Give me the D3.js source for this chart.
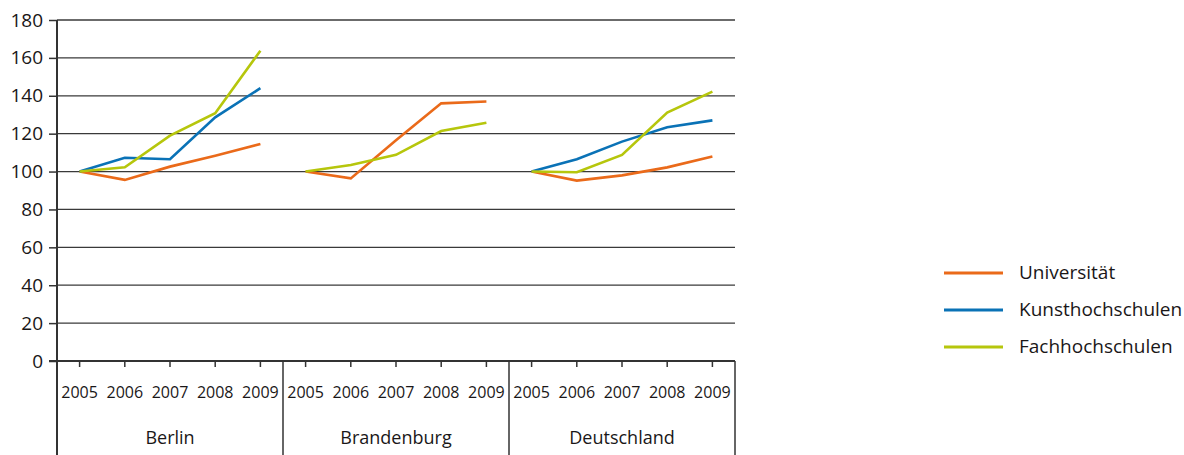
<html>
<head>
    <meta charset="utf-8">
    <script src="https://d3js.org/d3.v7.min.js"></script>
    <style>
        body { margin: 0; background: #fff; }
        text { font-family: "Open Sans", "Noto Sans", sans-serif; fill: #1a1718; }
    </style>
</head>
<body>
<div id="chart"></div>
<script>
    // data
    var regions = ["Berlin", "Brandenburg", "Deutschland"];
    var years = ["2005", "2006", "2007", "2008", "2009"];
    var seriesNames = ["Universität", "Kunsthochschulen", "Fachhochschulen"];
    var seriesColors = ["#ea6a1a", "#0a72b6", "#b6c60c"];
    var yTicks = [0, 20, 40, 60, 80, 100, 120, 140, 160, 180];

    // values per region (null = no data)
    var universitaet = {
        Berlin: [100, 95.6, 102.6, 108.4, 114.6],
        Brandenburg: [100, 96.4, 116.5, 136, 137],
        Deutschland: [100, 95.2, 98, 102.2, 107.9]
    };
    var kunsthochschulen = {
        Berlin: [100, 107.3, 106.5, 128.6, 144],
        Brandenburg: null,
        Deutschland: [100, 106.5, 115.8, 123.4, 127]
    };
    var fachhochschulen = {
        Berlin: [100, 102.3, 119, 130.8, 163.8],
        Brandenburg: [100, 103.5, 108.8, 121.4, 125.8],
        Deutschland: [100, 99.6, 108.8, 131.1, 142.2]
    };
    var seriesValues = [universitaet, kunsthochschulen, fachhochschulen];

    var W = 1184, H = 455;
    var pLeft = 57, pRight = 735, pTop = 20, pBottom = 361;

    var svg = d3.select("#chart").append("svg")
        .attr("width", W)
        .attr("height", H);

    var y = d3.scaleLinear().domain([0, 180]).range([pBottom, pTop]);
    var x0 = d3.scaleBand().domain(regions).range([pLeft, pRight]);
    var x1 = d3.scaleBand().domain(years).range([0, x0.bandwidth()]);

    // gridlines
    svg.append("g")
        .selectAll("line")
        .data(yTicks.filter(function (d) { return d > 0; }))
        .join("line")
        .attr("x1", pLeft).attr("x2", pRight)
        .attr("y1", function (d) { return y(d); })
        .attr("y2", function (d) { return y(d); })
        .style("stroke", "#3a3a3a")
        .style("stroke-width", 1.3);

    // y axis
    var yAxis = svg.append("g")
        .attr("transform", "translate(" + pLeft + ",0)")
        .call(d3.axisLeft(y).tickValues(yTicks).tickSize(8).tickPadding(6));
    yAxis.select(".domain").remove();
    yAxis.selectAll(".tick line").style("stroke", "#333").style("stroke-width", 1.5);
    yAxis.selectAll(".tick text")
        .style("font-size", "19px")
        .style("font-family", "'Open Sans', sans-serif")
        .style("fill", "#1a1718");

    // left axis line, down to bottom of page
    svg.append("line")
        .attr("x1", pLeft).attr("x2", pLeft)
        .attr("y1", pTop).attr("y2", H)
        .style("stroke", "#333").style("stroke-width", 2);

    // x axis line
    svg.append("line")
        .attr("x1", pLeft - 8).attr("x2", pRight)
        .attr("y1", pBottom).attr("y2", pBottom)
        .style("stroke", "#333").style("stroke-width", 2);

    // region groups: ticks, year labels, separators, region labels
    var groups = svg.selectAll(".region")
        .data(regions)
        .join("g")
        .attr("class", "region")
        .attr("transform", function (d) { return "translate(" + x0(d) + ",0)"; });

    groups.selectAll(".ytick")
        .data(years)
        .join("line")
        .attr("x1", function (d) { return x1(d) + x1.bandwidth() / 2; })
        .attr("x2", function (d) { return x1(d) + x1.bandwidth() / 2; })
        .attr("y1", pBottom).attr("y2", pBottom + 6)
        .style("stroke", "#333").style("stroke-width", 1.5);

    groups.selectAll(".ylabel")
        .data(years)
        .join("text")
        .attr("x", function (d) { return x1(d) + x1.bandwidth() / 2; })
        .attr("y", 398)
        .attr("text-anchor", "middle")
        .style("font-size", "16px")
        .text(function (d) { return d; });

    groups.append("line")
        .attr("x1", x0.bandwidth()).attr("x2", x0.bandwidth())
        .attr("y1", pBottom).attr("y2", H)
        .style("stroke", "#333").style("stroke-width", 1.5);

    groups.append("text")
        .attr("x", x0.bandwidth() / 2)
        .attr("y", 444)
        .attr("text-anchor", "middle")
        .style("font-size", "18px")
        .text(function (d) { return d; });

    // series lines
    var lineGen = d3.line()
        .x(function (d, i) { return x1(years[i]) + x1.bandwidth() / 2; })
        .y(function (d) { return y(d); });

    seriesValues.forEach(function (s, si) {
        groups.filter(function (r) { return s[r] !== null; })
            .append("path")
            .datum(function (r) { return s[r]; })
            .attr("d", lineGen)
            .style("fill", "none")
            .style("stroke", seriesColors[si])
            .style("stroke-width", 2.6)
            .style("stroke-linejoin", "miter");
    });

    // legend
    var legend = svg.selectAll(".legend")
        .data(seriesNames)
        .join("g")
        .attr("class", "legend")
        .attr("transform", function (d, i) { return "translate(944," + (273 + i * 37) + ")"; });

    legend.append("line")
        .attr("x1", 0).attr("x2", 59)
        .style("stroke", function (d, i) { return seriesColors[i]; })
        .style("stroke-width", 3);

    legend.append("text")
        .attr("x", 75)
        .attr("y", 6)
        .style("font-size", "19px")
        .text(function (d) { return d; });
</script>
</body>
</html>
